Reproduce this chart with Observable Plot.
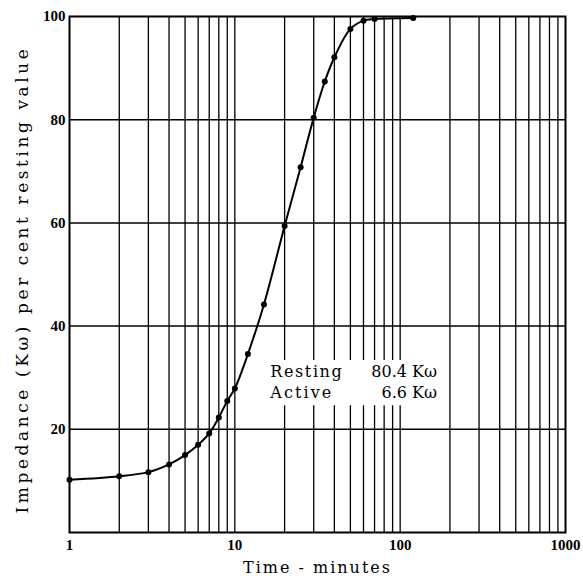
<!DOCTYPE html>
<html>
<head>
<meta charset="utf-8">
<script src="https://cdn.jsdelivr.net/npm/d3@7"></script>
<script src="https://cdn.jsdelivr.net/npm/@observablehq/plot@0.6"></script>
<style>
  html, body { margin: 0; padding: 0; background: white; }
  #chart { width: 583px; height: 584px; }
</style>
</head>
<body>
<div id="chart"></div>
<script>
// Time (minutes) and impedance (% of resting value)
const times = [1, 2, 3, 4, 5, 6, 7, 8, 9, 10, 12, 15, 20, 25, 30, 35, 40, 50, 60, 70, 120];
const impedance = [10.2, 10.9, 11.7, 13.2, 15.0, 17.0, 19.2, 22.3, 25.5, 27.9, 34.6, 44.2, 59.4, 70.8, 80.4, 87.4, 92.1, 97.6, 99.2, 99.5, 99.7];

const xTicks = [1, 10, 100, 1000];
const yTicks = [20, 40, 60, 80, 100];
const xGrid = [2, 3, 4, 5, 6, 7, 8, 9, 10, 20, 30, 40, 50, 60, 70, 80, 90, 100, 200, 300, 400, 500, 600, 700, 800, 900];
const yGrid = [20, 40, 60, 80];

const annLabels = ["Resting", "Active"];
const annValues = ["80.4 K\u03c9", "6.6 K\u03c9"];
const annY = [31.1, 27.0];

const xTitle = "Time - minutes";
const yTitle = "Impedance (K\u03c9) per cent resting value";

const data = times.map((t, i) => ({t, v: impedance[i]}));
const ann = annLabels.map((l, i) => ({label: l, value: annValues[i], y: annY[i]}));

const serif = "'DejaVu Serif', serif";
const tickFont = "'Liberation Serif', serif";

const chart = Plot.plot({
  width: 583,
  height: 584,
  marginLeft: 69,
  marginRight: 18,
  marginTop: 16,
  marginBottom: 52,
  style: {background: "white", color: "black"},
  x: {type: "log", domain: [1, 1000]},
  y: {domain: [0, 100]},
  marks: [
    Plot.ruleX(xGrid, {stroke: "black", strokeWidth: 1.3}),
    Plot.ruleY(yGrid, {stroke: "black", strokeWidth: 1.5}),
    // white backing behind the annotation
    Plot.ruleY(ann, {y: "y", x1: 15.6, x2: 185, stroke: "white", strokeWidth: 24}),
    Plot.text(ann, {x: 16.4, y: "y", text: "label", textAnchor: "start", fontFamily: serif, fontSize: 16, fill: "black"}),
    Plot.text(ann, {x: 167, y: "y", text: "value", textAnchor: "end", fontFamily: serif, fontSize: 16, fill: "black"}),
    Plot.frame({stroke: "black", strokeWidth: 2}),
    Plot.line(data, {x: "t", y: "v", curve: "catmull-rom", stroke: "black", strokeWidth: 2}),
    Plot.dot(data, {x: "t", y: "v", r: 3, fill: "black", stroke: "none"}),
    Plot.axisX(xTicks, {tickSize: 0, tickPadding: 7, fontSize: 15, fontFamily: tickFont, fontWeight: "bold", tickFormat: d => String(d), label: null}),
    Plot.axisY(yTicks, {tickSize: 0, tickPadding: 4, fontSize: 15, fontFamily: tickFont, fontWeight: "bold", tickFormat: d => String(d), label: null}),
    Plot.text([xTitle], {frameAnchor: "bottom", textAnchor: "middle", dy: 40, fontFamily: serif, fontSize: 16, fill: "black"}),
    Plot.text([yTitle], {frameAnchor: "left", textAnchor: "middle", dx: -47, dy: 5, rotate: -90, fontFamily: serif, fontSize: 17, fill: "black"})
  ]
});

document.getElementById("chart").appendChild(chart);

// widen texts to the hand-lettered widths using letter spacing
function spread(node, target) {
  const len = node.getComputedTextLength();
  const n = node.textContent.length;
  if (n > 1 && len < target) d3.select(node).style("letter-spacing", ((target - len) / n) + "px");
}
d3.select(chart).selectAll("text").each(function() {
  const txt = this.textContent;
  if (txt === yTitle) spread(this, 468);
  if (txt === xTitle) spread(this, 149);
  if (txt === annLabels[0]) spread(this, 73);
  if (txt === annLabels[1]) spread(this, 63);
});
</script>
</body>
</html>
